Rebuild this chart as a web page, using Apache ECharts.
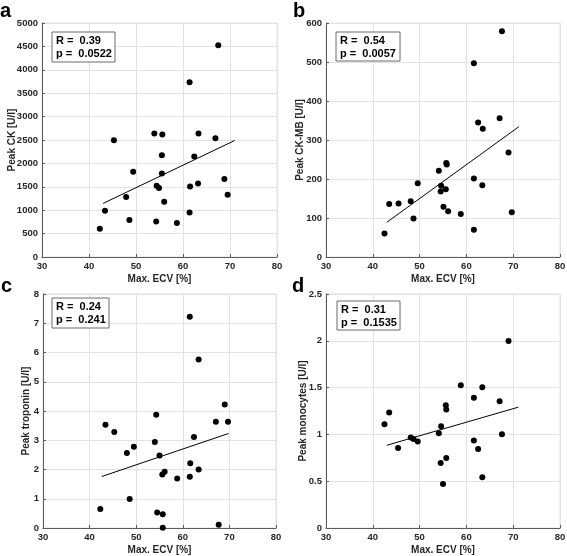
<!DOCTYPE html>
<html>
<head>
<meta charset="utf-8">
<script src="https://cdn.jsdelivr.net/npm/echarts@6/dist/echarts.min.js"></script>
<style>
html,body{margin:0;padding:0;background:#fff;}
#chart{width:567px;height:556px;}
</style>
</head>
<body>
<div id="chart"></div>
<script>
// ---- Data ----
const ecvA = [42.3, 43.4, 45.3, 47.9, 48.6, 49.4, 53.9, 54.3, 54.4, 54.9, 55.5, 55.5, 55.6, 56.0, 58.7, 61.4, 61.4, 61.5, 62.4, 63.2, 63.3, 66.9, 67.5, 68.8, 69.5];
const peakCK = [605, 989, 2496, 1280, 790, 1821, 2639, 761, 1522, 1472, 1785, 2176, 2617, 1181, 725, 3734, 953, 1508, 2148, 1572, 2639, 2539, 4523, 1664, 1330];

const ecvB = [42.5, 43.5, 45.5, 48.1, 48.7, 49.6, 54.1, 54.5, 54.6, 55.1, 55.6, 55.7, 55.8, 56.1, 58.8, 61.6, 61.6, 61.6, 62.5, 63.5, 63.4, 67.1, 67.6, 69.0, 69.7];
const peakCKMB = [60, 136, 137, 143, 99, 189, 221, 168, 183, 129, 174, 241, 237, 117, 110, 497, 201, 70, 345, 329, 184, 356, 579, 268, 115];

const ecvC = [42.3, 43.4, 45.3, 48.0, 48.6, 49.5, 54.0, 54.3, 54.5, 55.0, 55.6, 55.7, 55.7, 56.1, 58.8, 61.5, 61.6, 61.5, 62.4, 63.4, 63.4, 67.1, 67.7, 69.0, 69.7];
const peakTroponin = [0.65, 3.53, 3.28, 2.56, 0.99, 2.78, 2.94, 3.87, 0.53, 2.48, 1.83, 0.47, 0.01, 1.92, 1.69, 7.22, 2.21, 1.75, 3.11, 5.76, 2.00, 3.63, 0.11, 4.22, 3.63];

const ecvD = [42.5, 43.5, 45.4, 48.1, 48.7, 49.6, 54.1, 54.5, 54.6, 55.0, 55.6, 55.7, 55.7, 58.8, 61.6, 61.6, 62.5, 63.4, 63.4, 67.1, 67.6, 69.0];
const peakMonocytes = [1.109, 1.234, 0.856, 0.966, 0.952, 0.924, 1.013, 0.695, 1.088, 0.471, 1.312, 1.266, 0.749, 1.526, 1.391, 0.934, 0.845, 1.505, 0.542, 1.355, 1.002, 1.997];

// regression line end points [x0, y0, x1, y1]
const fitA = [43.0, 1145, 71.0, 2489];
const fitB = [43.0, 89, 71.2, 334];
const fitC = [42.6, 1.76, 69.8, 3.23];
const fitD = [43.0, 0.884, 71.1, 1.291];

const xTicks = {min: 30, max: 80, interval: 10};
const yAxesDef = [
  {name: 'Peak CK [U/l]', min: 0, max: 5000, interval: 500, gap: 25},
  {name: 'Peak CK-MB [U/l]', min: 0, max: 600, interval: 100, gap: 21},
  {name: 'Peak troponin [U/l]', min: 0, max: 8, interval: 1, gap: 12},
  {name: 'Peak monocytes [U/l]', min: 0, max: 2.5, interval: 0.5, gap: 18}
];
const stats = [['R =  0.39', 'p =  0.0522'], ['R =  0.54', 'p =  0.0057'], ['R =  0.24', 'p =  0.241'], ['R =  0.31', 'p =  0.1535']];
const panelLetters = ['a', 'b', 'c', 'd'];

// ---- Layout ----
const grids = [
  {left: 42, top: 23, width: 235, height: 234},
  {left: 326, top: 23, width: 234, height: 234},
  {left: 43, top: 294, width: 233, height: 234},
  {left: 326, top: 294, width: 234, height: 234}
];
const boxes = [
  {x: 52, y: 32, w: 63, h: 30},
  {x: 336, y: 32, w: 64, h: 29},
  {x: 52, y: 298, w: 57, h: 30},
  {x: 337, y: 301, w: 63, h: 29}
];
const letterPos = [[0, 1], [293, 1], [1, 276], [292, 276]];

const FONT = 'Liberation Sans, Arial, sans-serif';
const labelColor = '#262626';
const axisColor = '#5a5a5a';
const gridColor = '#e2e2e2';

const xs = [ecvA, ecvB, ecvC, ecvD];
const ys = [peakCK, peakCKMB, peakTroponin, peakMonocytes];
const fits = [fitA, fitB, fitC, fitD];

const option = {
  backgroundColor: '#fff',
  animation: false,
  grid: grids.map(g => Object.assign({show: true, borderColor: gridColor, borderWidth: 1, backgroundColor: '#fff', containLabel: false, outerBoundsMode: 'none'}, g)),
  xAxis: grids.map((g, i) => ({
    gridIndex: i, type: 'value', min: xTicks.min, max: xTicks.max, interval: xTicks.interval,
    name: 'Max. ECV [%]', nameLocation: 'middle', nameGap: 17, nameMoveOverlap: false,
    nameTextStyle: {fontFamily: FONT, fontWeight: 'bold', fontSize: 10, color: labelColor},
    axisLine: {show: true, onZero: false, lineStyle: {color: axisColor, width: 1}},
    axisTick: {show: true, inside: true, length: 3, lineStyle: {color: axisColor}},
    axisLabel: {fontFamily: FONT, fontWeight: 'bold', fontSize: 9.5, color: labelColor, margin: 4, formatter: v => String(v)},
    splitLine: {show: true, lineStyle: {color: gridColor, width: 1}}
  })),
  yAxis: yAxesDef.map((d, i) => ({
    gridIndex: i, type: 'value', min: d.min, max: d.max, interval: d.interval,
    name: d.name, nameLocation: 'middle', nameGap: d.gap, nameMoveOverlap: false,
    nameTextStyle: {fontFamily: FONT, fontWeight: 'bold', fontSize: 10, color: labelColor},
    axisLine: {show: true, onZero: false, lineStyle: {color: axisColor, width: 1}},
    axisTick: {show: true, inside: true, length: 3, lineStyle: {color: axisColor}},
    axisLabel: {fontFamily: FONT, fontWeight: 'bold', fontSize: 9.5, color: labelColor, margin: 4, formatter: v => String(v)},
    splitLine: {show: true, lineStyle: {color: gridColor, width: 1}}
  })),
  series: [],
  graphic: []
};

for (let i = 0; i < 4; i++) {
  option.series.push({
    type: 'scatter', xAxisIndex: i, yAxisIndex: i,
    data: xs[i].map((x, k) => [x, ys[i][k]]),
    symbol: 'circle', symbolSize: 6,
    itemStyle: {color: '#000', opacity: 1}, z: 3
  });
  const f = fits[i];
  option.series.push({
    type: 'line', xAxisIndex: i, yAxisIndex: i,
    data: [[f[0], f[1]], [f[2], f[3]]],
    symbol: 'none', lineStyle: {color: '#000', width: 1}, z: 2
  });
  const b = boxes[i];
  option.graphic.push({
    type: 'rect', shape: {x: b.x, y: b.y, width: b.w, height: b.h},
    style: {fill: '#fff', stroke: '#6a6a6a', lineWidth: 1}, z: 10
  });
  option.graphic.push({
    type: 'text', x: b.x + 4, y: b.y + 3,
    style: {text: stats[i].join('\n'), font: 'bold 11px ' + FONT, fill: '#000', lineHeight: 12.5}, z: 11
  });
  option.graphic.push({
    type: 'text', x: letterPos[i][0], y: letterPos[i][1],
    style: {text: panelLetters[i], font: 'bold 20px ' + FONT, fill: '#000'}, z: 11
  });
}

const chart = echarts.init(document.getElementById('chart'), null, {renderer: 'canvas'});
chart.setOption(option);
</script>
</body>
</html>
